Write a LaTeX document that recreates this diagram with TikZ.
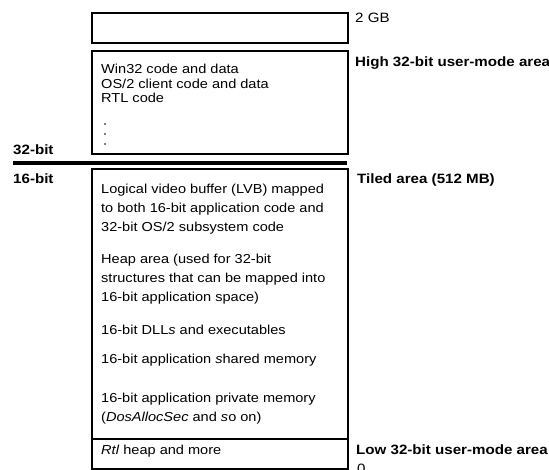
\documentclass[tikz,border=0pt]{standalone}
\usepackage{fontspec}
\setmainfont{Liberation Sans}[FakeStretch=1.12]
\begin{document}
\begin{tikzpicture}[x=1pt,y=-1pt,
  membox/.style={draw=black,line width=1.8pt,minimum width=256pt,inner sep=0pt,anchor=north west},
  body/.style={anchor=base west,inner sep=0pt,font=\fontsize{13}{14.5}\selectfont},
  lbl/.style={anchor=base west,inner sep=0pt,font=\fontsize{13.5}{15}\selectfont\bfseries},
  plain/.style={anchor=base west,inner sep=0pt,font=\fontsize{13.5}{15}\selectfont},
  dot/.style={circle,fill=black,inner sep=0pt,minimum size=1.9pt}]
\useasboundingbox (0,0) rectangle (549,470);

% address-space blocks
\node[membox,minimum height=30pt] (top) at (91,12) {};
\node[membox,minimum height=103pt] (high) at (91,50) {};
\node[membox,minimum height=300pt] (low) at (91,168) {};
\coordinate (divL) at (91,439);
\coordinate (divR) at (347,439);
\draw[line width=1.4pt] (divL) -- (divR);

% 32-bit / 16-bit boundary
\coordinate (ruleL) at (13,163);
\coordinate (ruleR) at (347,163);
\draw[line width=3.6pt] (ruleL) -- (ruleR);

% side labels
\node[plain] (l2gb) at (355,23) {2 GB};
\node[lbl] (lhigh) at (355,67) {High 32-bit user-mode area};
\node[lbl] (l32) at (13,155) {32-bit};
\node[lbl] (l16) at (13,184) {16-bit};
\node[lbl] (ltiled) at (357,184) {Tiled area (512 MB)};
\node[lbl] (llow) at (356,454) {Low 32-bit user-mode area};
\node[plain] (lzero) at (357,473) {0};

% high user-mode contents
\node[body] (h1) at (101,74) {Win32 code and data};
\node[body] (h2) at (101,88.5) {OS/2 client code and data};
\node[body] (h3) at (101,103) {RTL code};
\node[dot] (d1) at (105,124) {};
\node[dot] (d2) at (105,134) {};
\node[dot] (d3) at (105,144) {};

% tiled area contents
\node[body] (t1) at (101,194) {Logical video buffer (LVB) mapped};
\node[body] (t2) at (101,213) {to both 16-bit application code and};
\node[body] (t3) at (101,232) {32-bit OS/2 subsystem code};
\node[body] (t4) at (101,264) {Heap area (used for 32-bit};
\node[body] (t5) at (101,283) {structures that can be mapped into};
\node[body] (t6) at (101,302) {16-bit application space)};
\node[body] (t7) at (101,335) {16-bit DLL\textit{s} and executables};
\node[body] (t8) at (101,363) {16-bit application \textit{s}hared memory};
\node[body] (t9) at (101,402) {16-bit application private memory};
\node[body] (t10) at (101,421) {(\textit{DosAllocSec} and \textit{s}o on)};
\node[body] (t11) at (101,454) {\textit{Rtl} heap and more};
\end{tikzpicture}
\end{document}
